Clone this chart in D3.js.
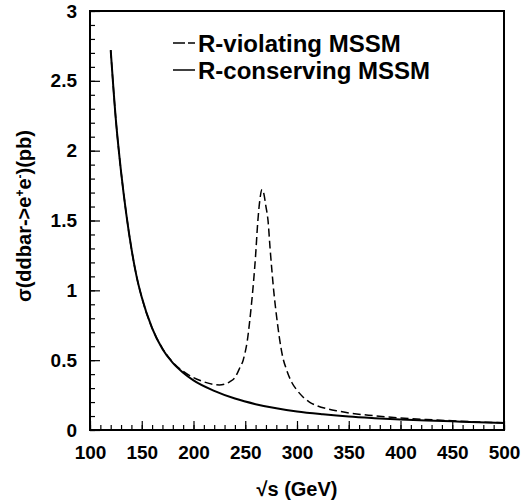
<!DOCTYPE html>
<html>
<head>
<meta charset="utf-8">
<script src="https://cdn.jsdelivr.net/npm/d3@7"></script>
<style>
  body { margin: 0; background: #fff; }
  text { font-family: "Liberation Sans", Arial, Helvetica, sans-serif; font-weight: bold; fill: #000; }
</style>
</head>
<body>
<div id="chart"></div>
<script>
// values
const xTicks = [100, 150, 200, 250, 300, 350, 400, 450, 500];
const yTicks = [0, 0.5, 1, 1.5, 2, 2.5, 3];

// R-conserving MSSM (solid)
const solidX = [120, 125, 130, 135, 140, 145, 150, 160, 170, 180, 190, 200, 220, 240, 260, 280, 300, 325, 350, 375, 400, 425, 450, 475, 500];
const solidY = [2.72, 2.22, 1.85, 1.55, 1.30, 1.10, 0.95, 0.73, 0.58, 0.48, 0.41, 0.355, 0.28, 0.225, 0.185, 0.155, 0.132, 0.112, 0.096, 0.085, 0.076, 0.068, 0.062, 0.056, 0.051];

// R-violating MSSM (dashed)
const dashX = [120, 125, 130, 135, 140, 145, 150, 160, 170, 180, 190, 200, 210, 220, 225, 230, 235, 240, 245, 248, 250, 252, 254, 256, 258, 260, 262, 264, 266, 267, 268, 270, 272, 274, 276, 278, 280, 283, 286, 290, 295, 300, 306, 312, 320, 330, 340, 350, 375, 400, 425, 450, 475, 500];
const dashY = [2.72, 2.22, 1.85, 1.55, 1.30, 1.10, 0.95, 0.73, 0.585, 0.485, 0.42, 0.375, 0.345, 0.325, 0.322, 0.328, 0.345, 0.375, 0.45, 0.50, 0.56, 0.64, 0.76, 0.90, 1.06, 1.25, 1.48, 1.64, 1.72, 1.72, 1.69, 1.60, 1.50, 1.30, 1.12, 0.96, 0.83, 0.66, 0.53, 0.43, 0.34, 0.285, 0.235, 0.20, 0.172, 0.15, 0.135, 0.122, 0.102, 0.086, 0.075, 0.066, 0.058, 0.052];

const legendLabels = ["R-violating MSSM", "R-conserving MSSM"];

const W = 527, H = 504;
const mLeft = 90, mRight = 504, mTop = 11, mBottom = 430;

const svg = d3.select("#chart")
    .append("svg")
    .attr("width", W)
    .attr("height", H);

const x = d3.scaleLinear().domain([100, 500]).range([mLeft, mRight]);
const y = d3.scaleLinear().domain([0, 3]).range([mBottom, mTop]);

// minor ticks
svg.append("g")
    .attr("transform", `translate(0, ${mBottom})`)
    .call(d3.axisBottom(x).tickValues(d3.range(100, 501, 10)).tickSize(-5).tickFormat(""))
    .call(g => g.select(".domain").remove());

svg.append("g")
    .attr("transform", `translate(${mLeft}, 0)`)
    .call(d3.axisLeft(y).tickValues(d3.range(0, 31).map(d => d / 10)).tickSize(-5).tickFormat(""))
    .call(g => g.select(".domain").remove());

// major ticks + labels
const xAxis = svg.append("g")
    .attr("transform", `translate(0, ${mBottom})`)
    .call(d3.axisBottom(x).tickValues(xTicks).tickSize(-9).tickPadding(16).tickFormat(d => d));

const yAxis = svg.append("g")
    .attr("transform", `translate(${mLeft}, 0)`)
    .call(d3.axisLeft(y).tickValues(yTicks).tickSize(-10).tickPadding(13).tickFormat(d => d));

[xAxis, yAxis].forEach(g => {
    g.select(".domain").remove();
    g.attr("font-family", null).attr("font-size", null);
    g.selectAll("text").style("font-size", "19px");
});

svg.selectAll(".tick line").attr("stroke", "#000").attr("stroke-width", 1.2);

// frame
svg.append("rect")
    .attr("x", mLeft)
    .attr("y", mTop)
    .attr("width", mRight - mLeft)
    .attr("height", mBottom - mTop)
    .attr("fill", "none")
    .attr("stroke", "#000")
    .attr("stroke-width", 2);

const line = d3.line()
    .x(d => x(d[0]))
    .y(d => y(d[1]))
    .curve(d3.curveMonotoneX);

svg.append("path")
    .datum(dashX.map((d, i) => [d, dashY[i]]))
    .attr("d", line)
    .attr("fill", "none")
    .attr("stroke", "#000")
    .attr("stroke-width", 1.5)
    .attr("stroke-dasharray", "8,4");

svg.append("path")
    .datum(solidX.map((d, i) => [d, solidY[i]]))
    .attr("d", line)
    .attr("fill", "none")
    .attr("stroke", "#000")
    .attr("stroke-width", 2);

// legend
const legend = svg.append("g");
legendLabels.forEach((lab, i) => {
    const ly = 43 + i * 27;
    legend.append("line")
        .attr("x1", 173).attr("x2", 195)
        .attr("y1", ly).attr("y2", ly)
        .attr("stroke", "#000")
        .attr("stroke-width", 1.5)
        .attr("stroke-dasharray", i === 0 ? "12,3,7" : null);
    legend.append("text")
        .attr("x", 198)
        .attr("y", ly + 9)
        .style("font-size", "24px")
        .text(lab);
});

// axis titles
svg.append("text")
    .attr("x", 297)
    .attr("y", 496)
    .attr("text-anchor", "middle")
    .style("font-size", "20px")
    .text("√s (GeV)");

const yt = svg.append("text")
    .attr("transform", "translate(31, 216) rotate(-90)")
    .attr("text-anchor", "middle")
    .style("font-size", "20px");
yt.append("tspan").text("σ(ddbar->e");
yt.append("tspan").attr("baseline-shift", "super").style("font-size", "12px").text("+");
yt.append("tspan").text("e");
yt.append("tspan").attr("baseline-shift", "super").style("font-size", "12px").text("-");
yt.append("tspan").text(")(pb)");
</script>
</body>
</html>
